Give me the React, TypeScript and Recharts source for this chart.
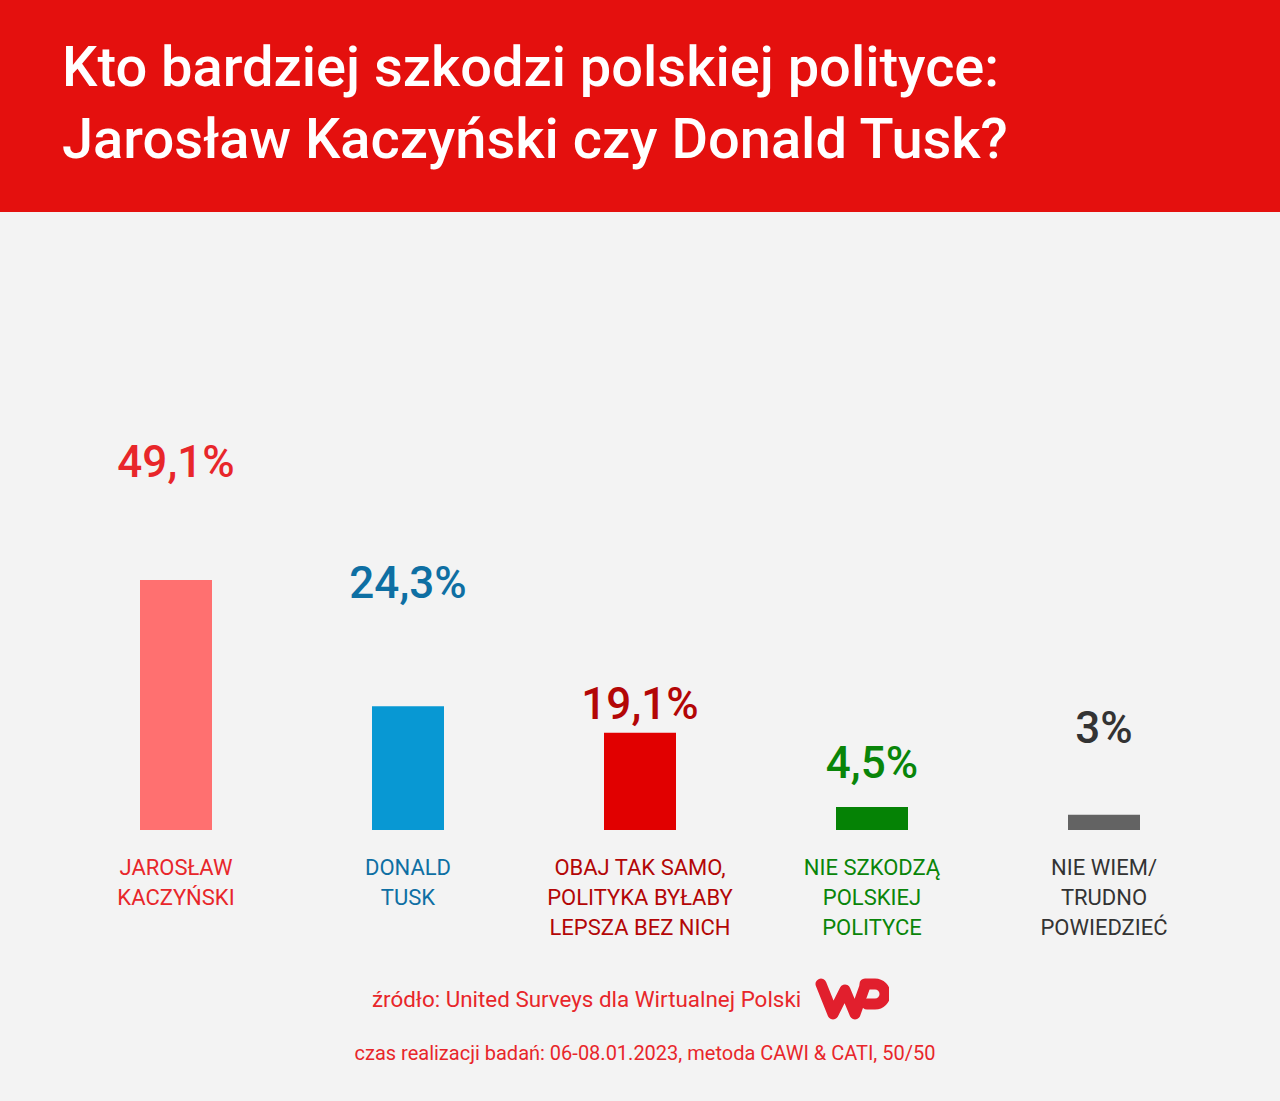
import { BarChart, Bar, XAxis, YAxis, Cell, LabelList } from "recharts";

const TITLE_LINES = [
  "Kto bardziej szkodzi polskiej polityce:",
  "Jarosław Kaczyński czy Donald Tusk?",
];

const CATEGORY_LINES = [
  ["JAROSŁAW", "KACZYŃSKI"],
  ["DONALD", "TUSK"],
  ["OBAJ TAK SAMO,", "POLITYKA BYŁABY", "LEPSZA BEZ NICH"],
  ["NIE SZKODZĄ", "POLSKIEJ", "POLITYCE"],
  ["NIE WIEM/", "TRUDNO", "POWIEDZIEĆ"],
];

const VALUES = [49.1, 24.3, 19.1, 4.5, 3];
const VALUE_LABELS = ["49,1%", "24,3%", "19,1%", "4,5%", "3%"];

const SOURCE = "źródło: United Surveys dla Wirtualnej Polski";
const NOTE = "czas realizacji badań: 06-08.01.2023, metoda CAWI & CATI, 50/50";

// styling
const BAR_COLORS = ["#ff7070", "#0898d3", "#e10000", "#058205", "#636363"];
const TEXT_COLORS = ["#e8262a", "#0e6fa3", "#b30606", "#098509", "#333333"];
const LABEL_LIFT = [103, 108, 14, 29, 72];
const FONT = "Roboto, 'Noto Sans', sans-serif";

const data = CATEGORY_LINES.map((lines, i) => ({
  name: lines.join(" "),
  value: VALUES[i],
}));

function CategoryTick(props: any) {
  const { x, y, index } = props;
  const lines = CATEGORY_LINES[index] || [];
  return (
    <text
      x={x}
      y={y}
      textAnchor="middle"
      fill={TEXT_COLORS[index]}
      fontFamily={FONT}
      fontSize={22}
    >
      {lines.map((l, i) => (
        <tspan key={i} x={x} y={y + 37 + i * 30}>
          {l}
        </tspan>
      ))}
    </text>
  );
}

function ValueLabel(props: any) {
  const { x, y, width, index } = props;
  return (
    <text
      x={x + width / 2}
      y={y - LABEL_LIFT[index]}
      textAnchor="middle"
      fill={TEXT_COLORS[index]}
      fontFamily={FONT}
      fontWeight={500}
      fontSize={44}
    >
      {VALUE_LABELS[index]}
    </text>
  );
}

function WpLogo() {
  return (
    <svg width={74} height={46} viewBox="0 0 74 46">
      <path
        d="M6 8 L18 38 L30 14 L40 38 L50 10"
        fill="none"
        stroke="#e11f2d"
        strokeWidth={11}
        strokeLinejoin="round"
        strokeLinecap="round"
      />
      <path
        d="M50 8 H60 A10 10 0 0 1 60 28 H52"
        fill="none"
        stroke="#e11f2d"
        strokeWidth={11}
        strokeLinejoin="round"
        strokeLinecap="round"
      />
    </svg>
  );
}

export default function App() {
  return (
    <div
      style={{
        position: "absolute",
        left: 0,
        top: 0,
        width: 1280,
        height: 1101,
        background: "#f3f3f3",
        fontFamily: FONT,
        overflow: "hidden",
      }}
    >
      <div
        style={{
          position: "absolute",
          left: 0,
          top: 0,
          width: 1280,
          height: 212,
          background: "#e4100e",
        }}
      >
        {TITLE_LINES.map((t, i) => (
          <div
            key={i}
            style={{
              position: "absolute",
              left: 62,
              top: 35 + i * 72,
              color: "#ffffff",
              fontSize: 56,
              fontWeight: 500,
              lineHeight: "64px",
              whiteSpace: "nowrap",
            }}
          >
            {t}
          </div>
        ))}
      </div>

      <div style={{ position: "absolute", left: 0, top: 212 }}>
        <BarChart
          width={1280}
          height={889}
          data={data}
          margin={{ top: 109, right: 60, bottom: 151, left: 60 }}
        >
          <XAxis
            dataKey="name"
            axisLine={false}
            tickLine={false}
            interval={0}
            height={120}
            tick={<CategoryTick />}
          />
          <YAxis hide width={0} domain={[0, 100]} />
          <Bar dataKey="value" barSize={72} isAnimationActive={false}>
            {data.map((_, i) => (
              <Cell key={i} fill={BAR_COLORS[i]} />
            ))}
            <LabelList dataKey="value" content={<ValueLabel />} />
          </Bar>
        </BarChart>
      </div>

      <div
        style={{
          position: "absolute",
          left: 372,
          top: 976,
          display: "flex",
          alignItems: "center",
          gap: 14,
        }}
      >
        <span style={{ color: "#e8262a", fontSize: 22.4, whiteSpace: "nowrap" }}>
          {SOURCE}
        </span>
        <WpLogo />
      </div>
      <div
        style={{
          position: "absolute",
          left: 0,
          width: 1290,
          top: 1041,
          textAlign: "center",
          color: "#e8262a",
          fontSize: 20,
          whiteSpace: "nowrap",
        }}
      >
        {NOTE}
      </div>
    </div>
  );
}
